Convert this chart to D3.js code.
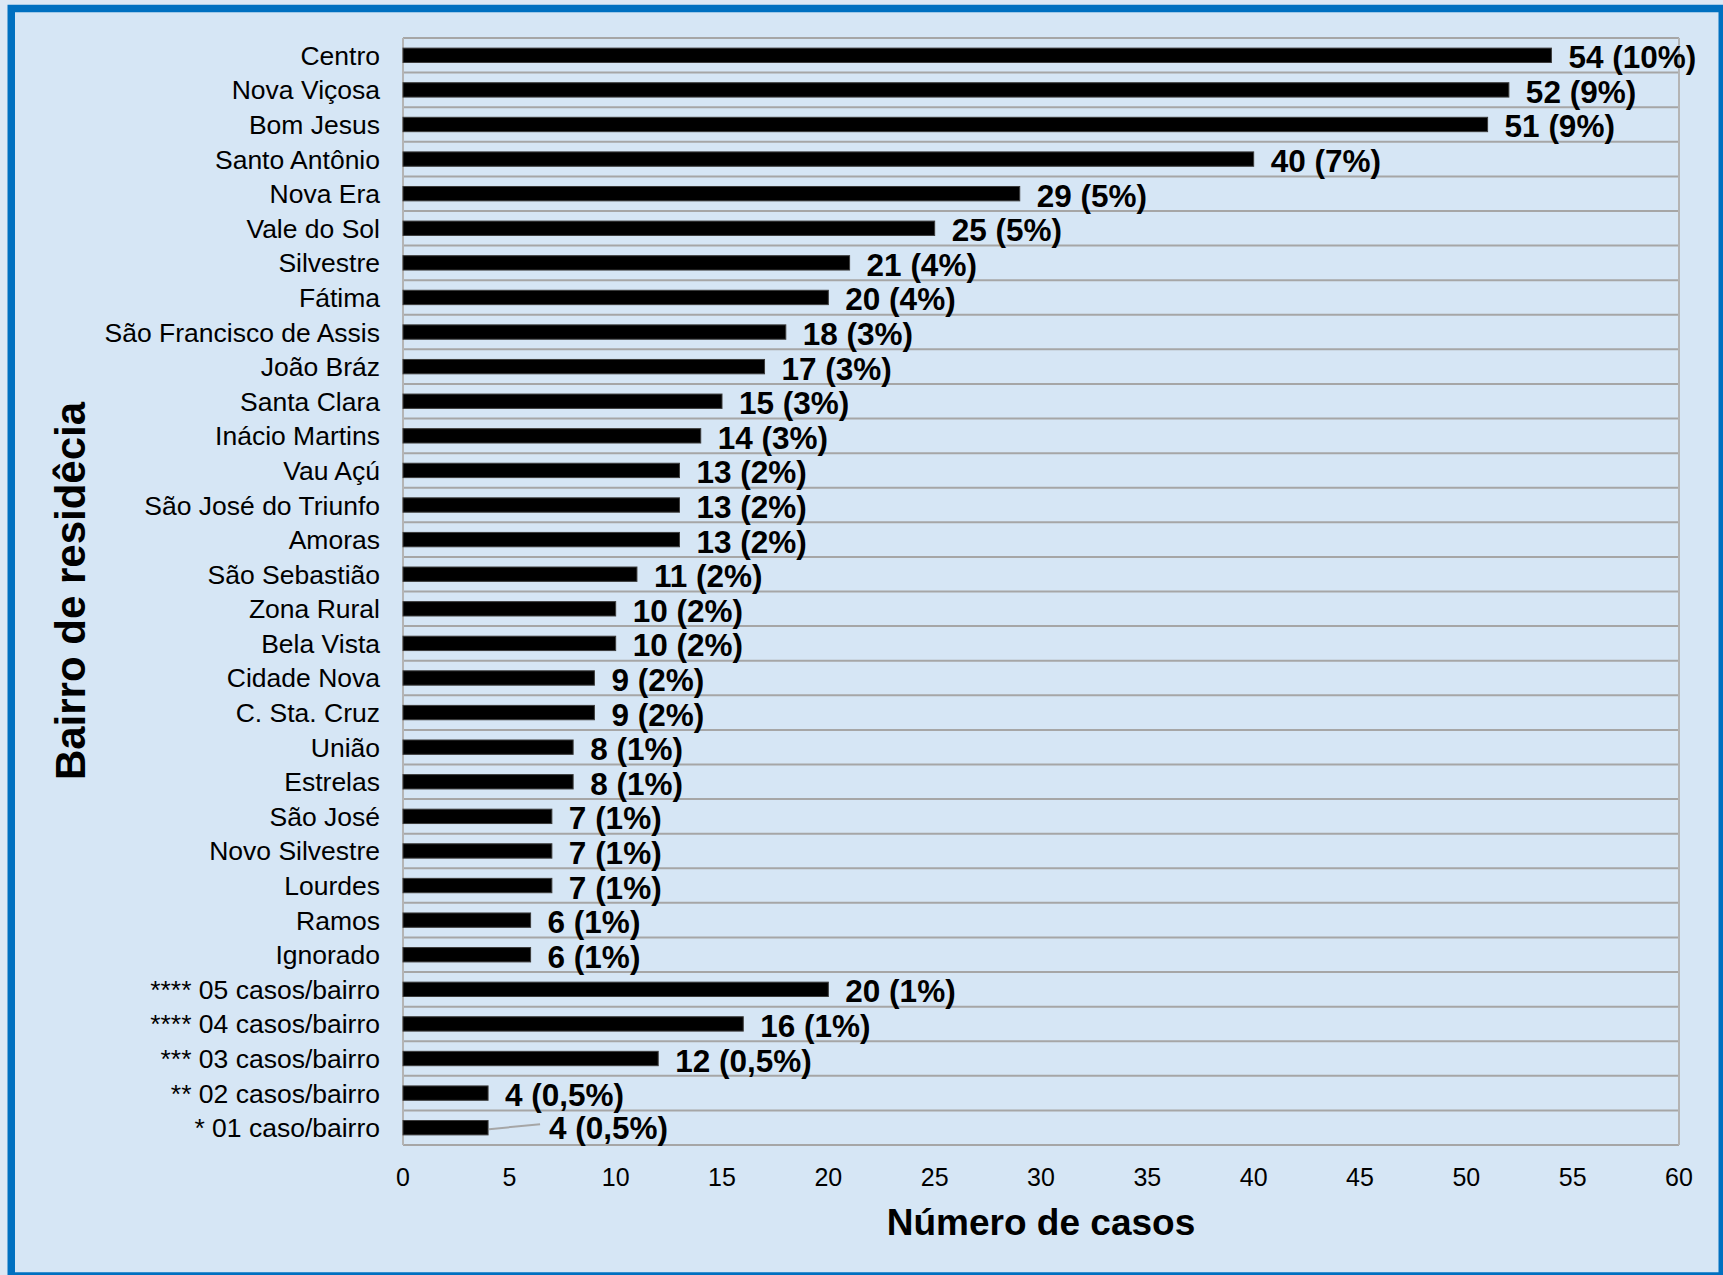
<!DOCTYPE html>
<html>
<head>
<meta charset="utf-8">
<script src="https://cdn.jsdelivr.net/npm/d3@7"></script>
<style>
  html, body { margin: 0; padding: 0; background: #dce8f4; }
  svg { display: block; font-family: "Liberation Sans", Arial, sans-serif; }
</style>
</head>
<body>
<div id="chart"></div>
<script>
const bairros = [
  "Centro", "Nova Viçosa", "Bom Jesus", "Santo Antônio", "Nova Era", "Vale do Sol",
  "Silvestre", "Fátima", "São Francisco de Assis", "João Bráz", "Santa Clara",
  "Inácio Martins", "Vau Açú", "São José do Triunfo", "Amoras", "São Sebastião",
  "Zona Rural", "Bela Vista", "Cidade Nova", "C. Sta. Cruz", "União", "Estrelas",
  "São José", "Novo Silvestre", "Lourdes", "Ramos", "Ignorado",
  "**** 05 casos/bairro", "**** 04 casos/bairro", "*** 03 casos/bairro",
  "** 02 casos/bairro", "* 01 caso/bairro"
];
const casos = [54, 52, 51, 40, 29, 25, 21, 20, 18, 17, 15, 14, 13, 13, 13, 11, 10, 10, 9, 9, 8, 8, 7, 7, 7, 6, 6, 20, 16, 12, 4, 4];
const percentuais = ["10%", "9%", "9%", "7%", "5%", "5%", "4%", "4%", "3%", "3%", "3%", "3%",
  "2%", "2%", "2%", "2%", "2%", "2%", "2%", "2%", "1%", "1%", "1%", "1%", "1%", "1%", "1%",
  "1%", "1%", "0,5%", "0,5%", "0,5%"];
const xTicks = [0, 5, 10, 15, 20, 25, 30, 35, 40, 45, 50, 55, 60];

const data = bairros.map((b, i) => ({ bairro: b, casos: casos[i], pct: percentuais[i] }));

const W = 1723, H = 1275;
const plot = { left: 403, right: 1679, top: 38, bottom: 1145 };

const svg = d3.select("#chart").append("svg")
  .attr("width", W)
  .attr("height", H);

// background + blue frame
svg.append("rect")
  .attr("x", 11.25).attr("y", 8.5)
  .attr("width", 1711).attr("height", 1267.5)
  .attr("fill", "#d6e6f5")
  .attr("stroke", "#0070c0")
  .attr("stroke-width", 7.5);

const x = d3.scaleLinear()
  .domain([0, 60])
  .range([plot.left, plot.right]);

const y = d3.scaleBand()
  .domain(bairros)
  .range([plot.top, plot.bottom])
  .padding(0);

const barH = y.bandwidth() * 0.415;

// horizontal grid lines at band edges
const edges = bairros.map(b => y(b)).concat([plot.bottom]);
svg.append("g")
  .selectAll("line")
  .data(edges)
  .enter().append("line")
  .attr("x1", plot.left).attr("x2", plot.right)
  .attr("y1", d => d).attr("y2", d => d)
  .attr("stroke", "#a6a6a6")
  .attr("stroke-width", 2);

// plot border left / right
[plot.left, plot.right].forEach(px => {
  svg.append("line")
    .attr("x1", px).attr("x2", px)
    .attr("y1", plot.top).attr("y2", plot.bottom)
    .attr("stroke", "#b4b4b4")
    .attr("stroke-width", 2);
});

// bars
svg.append("g")
  .selectAll("rect")
  .data(data)
  .enter().append("rect")
  .attr("x", x(0))
  .attr("y", d => y(d.bairro) + y.bandwidth() / 2 - barH / 2)
  .attr("width", d => x(d.casos) - x(0))
  .attr("height", barH)
  .attr("fill", "#000")
  .attr("stroke", "#3c3c3c")
  .attr("stroke-width", 1);

// category labels
svg.append("g")
  .selectAll("text")
  .data(data)
  .enter().append("text")
  .attr("x", 380)
  .attr("y", d => y(d.bairro) + y.bandwidth() / 2 + 9.5)
  .attr("text-anchor", "end")
  .style("font-size", "26.5px")
  .attr("fill", "#000")
  .text(d => d.bairro);

// value labels
const last = data.length - 1;
const labelX = (d, i) => x(d.casos) + (i === last ? 61 : 17);

svg.append("g")
  .selectAll("text")
  .data(data)
  .enter().append("text")
  .attr("x", labelX)
  .attr("y", (d, i) => y(d.bairro) + y.bandwidth() / 2 + (i === last ? 11 : 13))
  .style("font-size", "31.5px")
  .style("font-weight", "bold")
  .attr("fill", "#000")
  .text(d => `${d.casos} (${d.pct})`);

// leader line for the last label
const dl = data[last];
svg.append("line")
  .attr("x1", x(dl.casos) + 1)
  .attr("y1", y(dl.bairro) + y.bandwidth() / 2 + 1.5)
  .attr("x2", x(dl.casos) + 52)
  .attr("y2", y(dl.bairro) + y.bandwidth() / 2 - 3.5)
  .attr("stroke", "#a6a6a6")
  .attr("stroke-width", 2);

// x axis tick labels
svg.append("g")
  .selectAll("text")
  .data(xTicks)
  .enter().append("text")
  .attr("x", d => x(d))
  .attr("y", 1186)
  .attr("text-anchor", "middle")
  .style("font-size", "25px")
  .attr("fill", "#000")
  .text(d => d);

// axis titles
svg.append("text")
  .attr("x", (plot.left + plot.right) / 2)
  .attr("y", 1235)
  .attr("text-anchor", "middle")
  .style("font-size", "37px")
  .style("font-weight", "bold")
  .attr("fill", "#000")
  .text("Número de casos");

svg.append("text")
  .attr("transform", "translate(85,591) rotate(-90)")
  .attr("text-anchor", "middle")
  .style("font-size", "42px")
  .style("font-weight", "bold")
  .attr("fill", "#000")
  .text("Bairro de residêcia");
</script>
</body>
</html>
